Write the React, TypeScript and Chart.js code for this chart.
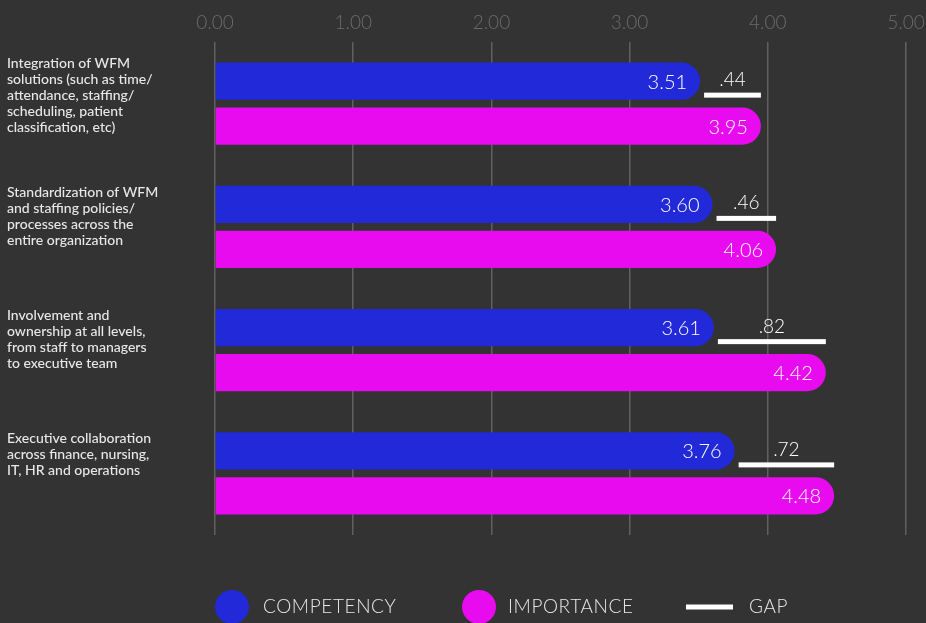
import React, { useEffect, useRef } from "react";
import { Chart, registerables } from "chart.js";

Chart.register(...registerables);

const categories: string[][] = [
  ["Integration of WFM", "solutions (such as time/", "attendance, staffing/", "scheduling, patient", "classification, etc)"],
  ["Standardization of WFM", "and staffing policies/", "processes across the", "entire organization"],
  ["Involvement and", "ownership at all levels,", "from staff to managers", "to executive team"],
  ["Executive collaboration", "across finance, nursing,", "IT, HR and operations"],
];
const competency = [3.51, 3.6, 3.61, 3.76];
const importance = [3.95, 4.06, 4.42, 4.48];
const gap = [0.44, 0.46, 0.82, 0.72];
const xMin = 0;
const xMax = 5;
const xStep = 1;
const legendLabels = ["COMPETENCY", "IMPORTANCE", "GAP"];

const BLUE = "#2229d8";
const PINK = "#e80bef";
const BG = "#333333";
const FONT = "Lato, 'Open Sans', sans-serif";

const overlay = {
  id: "overlay",
  afterDatasetsDraw(chart: any) {
    const ctx = chart.ctx as CanvasRenderingContext2D;
    const m0 = chart.getDatasetMeta(0);
    const m1 = chart.getDatasetMeta(1);
    ctx.save();
    ctx.fillStyle = "#ffffff";
    ctx.font = `300 20px ${FONT}`;
    ctx.textAlign = "right";
    ctx.textBaseline = "middle";
    m0.data.forEach((bar: any, i: number) => {
      ctx.fillText(competency[i].toFixed(2), bar.x - 13, bar.y + 1);
    });
    m1.data.forEach((bar: any, i: number) => {
      ctx.fillText(importance[i].toFixed(2), bar.x - 13, bar.y + 1);
    });
    // gap lines
    m0.data.forEach((b: any, i: number) => {
      const p = m1.data[i];
      const x1 = b.x + 4;
      const x2 = p.x;
      const y = b.y + 14;
      ctx.fillStyle = "#ffffff";
      ctx.fillRect(x1, y - 2.5, x2 - x1, 5);
      ctx.font = `300 19px ${FONT}`;
      ctx.textAlign = "center";
      ctx.textBaseline = "alphabetic";
      ctx.fillText(gap[i].toFixed(2).replace(/^0/, ""), (x1 + x2) / 2, y - 9);
    });
    ctx.restore();
  },
  afterDraw(chart: any) {
    const ctx = chart.ctx as CanvasRenderingContext2D;
    const m0 = chart.getDatasetMeta(0);
    ctx.save();
    // category labels
    ctx.fillStyle = "#e8e8e8";
    ctx.font = `500 14px ${FONT}`;
    ctx.textAlign = "left";
    ctx.textBaseline = "alphabetic";
    m0.data.forEach((b: any, i: number) => {
      const top = b.y - b.height / 2;
      const lift = categories[i].length > 4 ? 5 : 0;
      categories[i].forEach((line, k) => {
        ctx.fillText(line, 7, top + 11 - lift + k * 16);
      });
    });
    // legend
    const ly = 607;
    ctx.font = `300 19px ${FONT}`;
    (ctx as any).letterSpacing = "0.6px";
    ctx.textBaseline = "middle";
    ctx.fillStyle = BLUE;
    ctx.beginPath();
    ctx.arc(232, ly, 17, 0, Math.PI * 2);
    ctx.fill();
    ctx.fillStyle = "#e8e8e8";
    ctx.fillText(legendLabels[0], 263, ly);
    ctx.fillStyle = PINK;
    ctx.beginPath();
    ctx.arc(479, ly, 17, 0, Math.PI * 2);
    ctx.fill();
    ctx.fillStyle = "#e8e8e8";
    ctx.fillText(legendLabels[1], 508, ly);
    ctx.fillStyle = "#ffffff";
    ctx.fillRect(686, ly - 2.5, 47, 5);
    ctx.fillStyle = "#e8e8e8";
    ctx.fillText(legendLabels[2], 749, ly);
    ctx.restore();
  },
};

export default function App() {
  const ref = useRef<HTMLCanvasElement | null>(null);
  useEffect(() => {
    if (!ref.current) return;
    const chart = new Chart(ref.current, {
      type: "bar",
      data: {
        labels: categories.map((c) => c.join(" ")),
        datasets: [
          {
            label: legendLabels[0],
            data: competency,
            backgroundColor: BLUE,
            borderRadius: 19,
            borderSkipped: "start",
          },
          {
            label: legendLabels[1],
            data: importance,
            backgroundColor: PINK,
            borderRadius: 19,
            borderSkipped: "start",
          },
        ],
      },
      options: {
        indexAxis: "y",
        responsive: false,
        animation: false,
        devicePixelRatio: 1,
        layout: { padding: { left: 215, right: 20, top: 0, bottom: 88 } },
        plugins: { legend: { display: false }, tooltip: { enabled: false } },
        datasets: { bar: { categoryPercentage: 0.73, barPercentage: 0.83 } },
        scales: {
          x: {
            type: "linear",
            position: "top",
            min: xMin,
            max: xMax,
            ticks: {
              stepSize: xStep,
              color: "#6b6b6b",
              padding: 8,
              font: { family: FONT, size: 19, weight: "300" as any },
              callback: (v: any) => Number(v).toFixed(2),
            },
            grid: { color: "#606060", lineWidth: 1.5, drawTicks: false },
            border: { display: false },
            afterFit: (s: any) => {
              s.height = 42;
              s.paddingLeft = 0;
              s.paddingRight = 0;
            },
          },
          y: {
            display: false,
            offset: true,
          },
        },
      },
      plugins: [overlay],
    });
    return () => chart.destroy();
  }, []);
  return (
    <div
      style={{
        position: "fixed",
        left: 0,
        top: 0,
        width: 926,
        height: 623,
        background: BG,
        overflow: "hidden",
      }}
    >
      <canvas ref={ref} width={926} height={623} style={{ display: "block" }} />
    </div>
  );
}
